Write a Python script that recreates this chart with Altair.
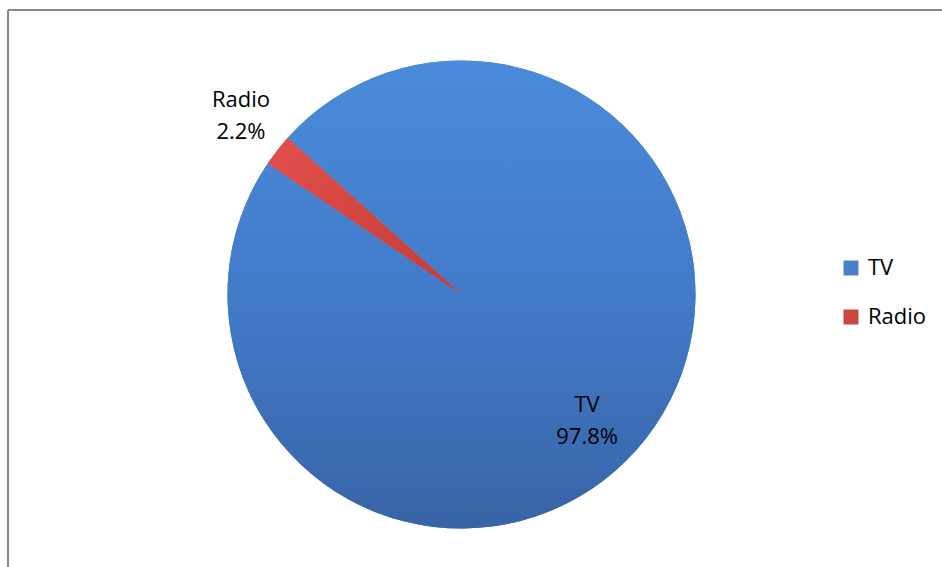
import math
import altair as alt
import pandas as pd

# ---- data ----
categories = ["TV", "Radio"]
shares = [97.8, 2.2]
slice_order = [0, 1]

df = pd.DataFrame({"category": categories, "share": shares, "ord": slice_order})

# ---- layout / style ----
W, H = 942, 567
CX, CY = 461.5, 294.5
R = 234
FONT = "Open Sans"
start = math.radians(-48)
theta_scale = alt.Scale(domain=[0, 100], range=[start, start + 2 * math.pi])

colors = ["#4A80C4", "#CC4640"]

grad_tv = alt.Gradient(
    gradient="linear", x1=0, y1=0, x2=0, y2=1,
    stops=[alt.GradientStop(color="#4A8BDB", offset=0),
           alt.GradientStop(color="#4179C6", offset=0.55),
           alt.GradientStop(color="#3864A6", offset=1)],
)
grad_radio = alt.Gradient(
    gradient="linear", x1=0, y1=0, x2=1, y2=1,
    stops=[alt.GradientStop(color="#E2504A", offset=0),
           alt.GradientStop(color="#C63B36", offset=1)],
)

base = (
    alt.Chart(df)
    .transform_window(cum="sum(share)", sort=[alt.SortField("ord")])
    .transform_calculate(
        t0="datum.cum - datum.share",
        mid="datum.cum - datum.share / 2",
        label="datum.category + '\\n' + format(datum.share, '.1f') + '%'",
    )
)

arc_enc = dict(
    theta=alt.Theta("t0:Q", scale=theta_scale),
    theta2="cum:Q",
    x=alt.value(CX),
    y=alt.value(CY),
)

legend_layer = base.mark_arc(outerRadius=R).encode(
    color=alt.Color(
        "category:N",
        scale=alt.Scale(domain=categories, range=colors),
        sort=categories,
        legend=alt.Legend(
            title=None,
            orient="none",
            legendX=840,
            legendY=257,
            symbolType="square",
            symbolSize=225,
            symbolStrokeWidth=0,
            symbolOpacity=1,
            labelFont=FONT,
            labelFontSize=22,
            labelColor="#000000",
            labelOffset=6,
            rowPadding=27,
            padding=0,
        ),
    ),
    **arc_enc,
)

tv_arc = base.transform_filter("datum.category == 'TV'").mark_arc(
    outerRadius=R, fill=grad_tv
).encode(**arc_enc)

radio_arc = base.transform_filter("datum.category == 'Radio'").mark_arc(
    outerRadius=R, fill=grad_radio
).encode(**arc_enc)

text_common = dict(font=FONT, fontSize=22, color="#000000", lineBreak="\n",
                   lineHeight=32, align="center", baseline="middle")

tv_label = base.transform_filter("datum.category == 'TV'").mark_text(
    radius=176, dx=-13, dy=2, **text_common
).encode(
    theta=alt.Theta("mid:Q", scale=theta_scale),
    x=alt.value(CX), y=alt.value(CY), text="label:N",
)

radio_label = base.transform_filter("datum.category == 'Radio'").mark_text(
    radius=280, dy=-22, **text_common
).encode(
    theta=alt.Theta("mid:Q", scale=theta_scale),
    x=alt.value(CX), y=alt.value(CY), text="label:N",
)

frame = alt.Chart(alt.Data(values=[{"a": 1}]))
top_rule = frame.mark_rule(color="#878787", strokeWidth=2).encode(
    x=alt.value(8), x2=alt.value(W), y=alt.value(10)
)
left_rule = frame.mark_rule(color="#878787", strokeWidth=2).encode(
    x=alt.value(8), y=alt.value(10), y2=alt.value(H)
)

chart = (
    alt.layer(legend_layer, tv_arc, radio_arc, tv_label, radio_label, top_rule, left_rule)
    .properties(width=W, height=H, autosize="none", padding=0, background="white")
    .configure_view(stroke=None)
)

chart.save("out.html", embed_options={"renderer": "svg", "actions": False})
